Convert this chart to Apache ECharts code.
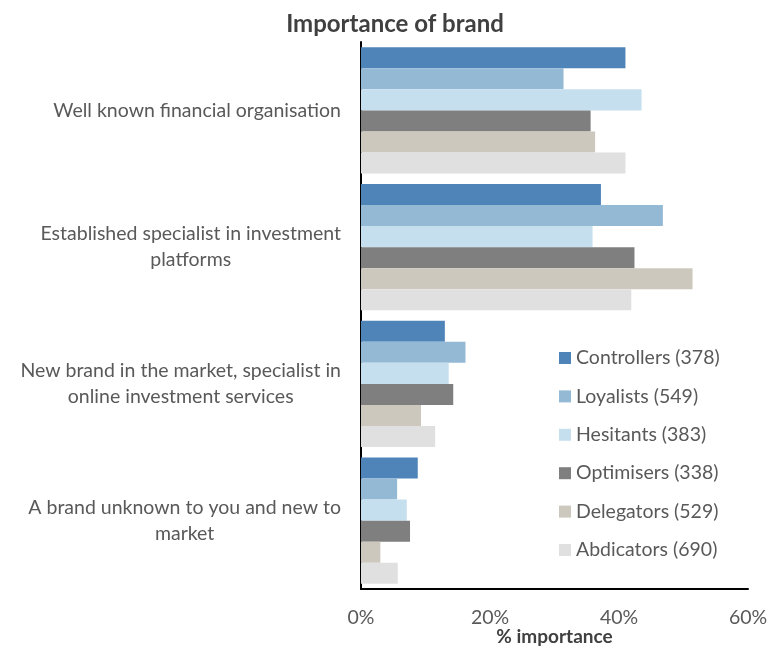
<!DOCTYPE html>
<html>
<head>
<meta charset="utf-8">
<title>Importance of brand</title>
<script src="https://cdn.jsdelivr.net/npm/echarts@6/dist/echarts.min.js"></script>
<style>
  html, body { margin: 0; padding: 0; background: #ffffff; }
  #chart { width: 770px; height: 650px; }
</style>
</head>
<body>
<div id="chart"></div>
<script>
// Brand attributes (one row per group of bars), lines split where the label wraps
const categories = [
  ['Well known financial organisation'],
  ['Established specialist in investment', 'platforms'],
  ['New brand in the market, specialist in', 'online investment services'],
  ['A brand unknown to you and new to', 'market']
];

// Segment names as shown in the legend
const segmentNames = [
  'Controllers (378)',
  'Loyalists (549)',
  'Hesitants (383)',
  'Optimisers (338)',
  'Delegators (529)',
  'Abdicators (690)'
];

// % importance per segment, in category order
const controllers = [41.0, 37.2, 13.0, 8.8];
const loyalists   = [31.4, 46.8, 16.2, 5.6];
const hesitants   = [43.5, 35.9, 13.6, 7.1];
const optimisers  = [35.6, 42.4, 14.3, 7.6];
const delegators  = [36.3, 51.4, 9.3, 3.0];
const abdicators  = [41.0, 41.9, 11.5, 5.7];

const segmentValues = [controllers, loyalists, hesitants, optimisers, delegators, abdicators];
const segmentColors = ['#4f84b8', '#94b9d5', '#c6dfef', '#7f7f7f', '#cdc8bd', '#e0e0e0'];

const xTicks = [0, 20, 40, 60];

const font = 'Lato, "Open Sans", sans-serif';
const chart = echarts.init(document.getElementById('chart'), null, { renderer: 'canvas' });

const series = segmentNames.map((name, i) => ({
  name: name,
  type: 'bar',
  data: segmentValues[i],
  itemStyle: { color: segmentColors[i] },
  barGap: '0%',
  barCategoryGap: '7.5%',
  silent: true
}));

chart.setOption({
  animation: false,
  backgroundColor: '#ffffff',
  title: {
    text: 'Importance of brand',
    left: 390,
    top: 7,
    textAlign: 'center',
    textStyle: { fontFamily: font, fontSize: 24, fontWeight: 'bold', color: '#404040' }
  },
  legend: {
    orient: 'vertical',
    left: 554,
    top: 343,
    itemWidth: 12,
    itemHeight: 12,
    itemGap: 18.4,
    icon: 'rect',
    textStyle: { fontFamily: font, fontSize: 19.5, lineHeight: 20, color: '#595959', padding: [0, 0, 0, 0] },
    data: segmentNames
  },
  grid: { left: 361, right: 22, top: 42, bottom: 61, containLabel: false, outerBoundsMode: 'none' },
  xAxis: {
    type: 'value',
    min: xTicks[0],
    max: xTicks[xTicks.length - 1],
    interval: xTicks[1] - xTicks[0],
    name: '% importance',
    nameLocation: 'middle',
    nameGap: 38,
    nameMoveOverlap: false,
    nameTextStyle: { fontFamily: font, fontSize: 19, fontWeight: 'bold', color: '#404040' },
    axisLine: { show: true, lineStyle: { color: '#000000', width: 2 } },
    axisTick: { show: false },
    splitLine: { show: false },
    axisLabel: {
      margin: 19,
      fontFamily: font,
      fontSize: 19.5,
      color: '#595959',
      formatter: v => v + '%'
    }
  },
  yAxis: {
    type: 'category',
    inverse: true,
    data: categories.map(c => c.join('\n')),
    axisLine: { show: true, lineStyle: { color: '#000000', width: 2 } },
    axisTick: { show: false },
    splitLine: { show: false },
    axisLabel: {
      margin: 20,
      align: 'right',
      formatter: v => v.split('\n').map(l => '{c|' + l + '}').join('\n'),
      rich: {
        c: { align: 'center', fontFamily: font, fontSize: 19.5, color: '#595959', lineHeight: 26 }
      }
    }
  },
  series: series
});
</script>
</body>
</html>
